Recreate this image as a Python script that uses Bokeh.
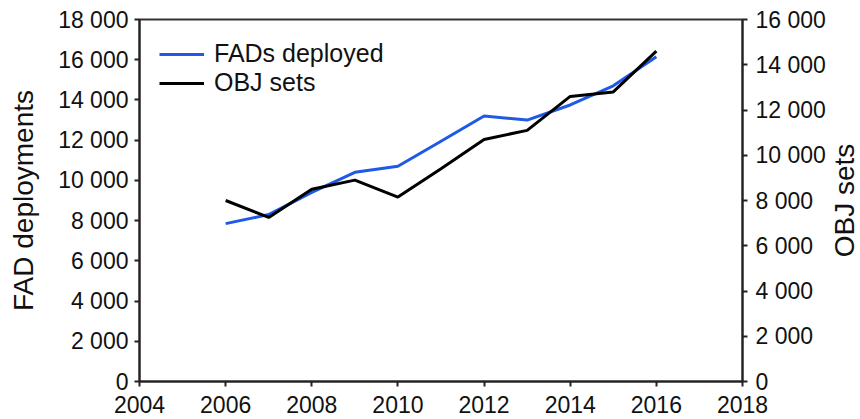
import math
from bokeh.plotting import figure
from bokeh.layouts import row
from bokeh.models import Range1d, LinearAxis, FixedTicker, Legend, LegendItem
from bokeh.core.properties import value
from bokeh.embed import file_html
from bokeh.resources import INLINE

# ---- data ----
years = [2006, 2007, 2008, 2009, 2010, 2011, 2012, 2013, 2014, 2015, 2016]
fads_deployed = [7850, 8300, 9400, 10400, 10700, 11950, 13200, 13000, 13750, 14700, 16150]
obj_sets = [8000, 7250, 8500, 8900, 8150, 9400, 10700, 11100, 12600, 12800, 14600]

x_ticks = [2004, 2006, 2008, 2010, 2012, 2014, 2016, 2018]
left_ticks = [0, 2000, 4000, 6000, 8000, 10000, 12000, 14000, 16000, 18000]
left_tick_labels = ["0", "2 000", "4 000", "6 000", "8 000", "10 000", "12 000", "14 000", "16 000", "18 000"]
right_ticks = [0, 2000, 4000, 6000, 8000, 10000, 12000, 14000, 16000]
right_tick_labels = ["0", "2 000", "4 000", "6 000", "8 000", "10 000", "12 000", "14 000", "16 000"]
right_title = "OBJ sets"

BLUE = "#1e5ae6"
FONT = "Liberation Sans"
W, H = 860, 419
SIDE_W = 32
MAIN_W = W - SIDE_W
FRAME_L, FRAME_R, FRAME_T, FRAME_B = 139, 743, 19, 381

p = figure(width=MAIN_W, height=H, output_backend="svg", toolbar_location=None,
           x_range=Range1d(2004, 2018), y_range=Range1d(0, 18000),
           min_border_left=FRAME_L, min_border_right=MAIN_W - FRAME_R,
           min_border_top=FRAME_T, min_border_bottom=H - FRAME_B,
           background_fill_color="white", border_fill_color="white")
p.extra_y_ranges = {"obj": Range1d(0, 16000)}
p.grid.visible = False
p.outline_line_color = "#333333"
p.outline_line_width = 2

r_fad = p.line(years, fads_deployed, line_color=BLUE, line_width=3)
r_obj = p.line(years, obj_sets, line_color="black", line_width=3, y_range_name="obj")

ax_right = LinearAxis(y_range_name="obj")
p.add_layout(ax_right, "right")

ax_x = p.xaxis[0]
ax_left = p.yaxis[0]

ax_x.ticker = FixedTicker(ticks=x_ticks)
ax_left.ticker = FixedTicker(ticks=left_ticks)
ax_right.ticker = FixedTicker(ticks=right_ticks)
ax_left.major_label_overrides = {t: s for t, s in zip(left_ticks, left_tick_labels)}
ax_right.major_label_overrides = {t: s for t, s in zip(right_ticks, right_tick_labels)}

for ax in (ax_x, ax_left, ax_right):
    ax.axis_line_color = "#222222"
    ax.axis_line_width = 2
    ax.major_tick_line_color = "#222222"
    ax.major_tick_line_width = 2
    ax.major_tick_in = 0
    ax.major_tick_out = 5
    ax.minor_tick_line_color = None
    ax.major_label_text_font = FONT
    ax.major_label_text_font_size = "23px"
    ax.major_label_text_color = "#111111"
    ax.major_label_standoff = 6

ax_x.major_label_standoff = 9
ax_right.major_label_standoff = 8

ax_left.axis_label = "FAD deployments"
ax_left.axis_label_standoff = 16
ax_left.axis_label_text_font = FONT
ax_left.axis_label_text_font_size = "28px"
ax_left.axis_label_text_font_style = "normal"
ax_left.axis_label_text_color = "#111111"

legend = Legend(items=[LegendItem(label="FADs deployed", renderers=[r_fad]),
                       LegendItem(label="OBJ sets", renderers=[r_obj])],
                location="top_left", margin=20, padding=0, spacing=0,
                glyph_width=45, label_standoff=10,
                border_line_color=None, background_fill_alpha=0,
                label_text_font=FONT, label_text_font_size="25px", label_text_color="#111111")
p.add_layout(legend)

# narrow strip on the right holding the right-hand axis title (reads bottom-to-top)
side = figure(width=SIDE_W, height=H, output_backend="svg", toolbar_location=None,
              x_range=Range1d(0, 1), y_range=p.y_range,
              x_axis_location=None, y_axis_location=None,
              min_border_left=0, min_border_right=0,
              min_border_top=FRAME_T, min_border_bottom=H - FRAME_B,
              background_fill_color="white", border_fill_color="white")
side.grid.visible = False
side.outline_line_color = None
mid_y = (p.y_range.start + p.y_range.end) / 2
side.text(x=[0.5], y=[mid_y], text=[right_title], angle=math.pi / 2,
          text_align="center", text_baseline="middle",
          text_font=value(FONT), text_font_size=value("28px"), text_color="#111111")

layout = row(p, side)
open("out.html", "w").write(file_html(layout, INLINE))
